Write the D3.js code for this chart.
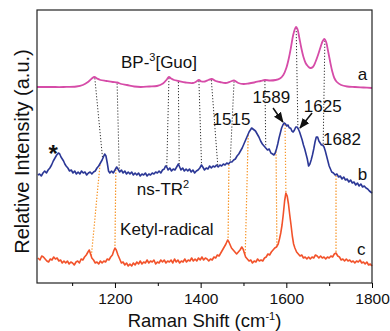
<!DOCTYPE html>
<html>
<head>
<meta charset="utf-8">
<script src="https://cdn.jsdelivr.net/npm/d3@7"></script>
<style>
  body { margin: 0; background: #fff; }
  svg { font-family: "Liberation Sans", Arial, sans-serif; }
</style>
</head>
<body>
<svg id="chart" width="390" height="331"></svg>
<script>
// Raman shift axis (cm-1)
var xDomain = [1018, 1800];
var majorTicks = [1200, 1400, 1600, 1800];
var minorTicks = [1100, 1300, 1500, 1700];

// a: BP-3[Guo] (offset intensity, a.u.)
var specA = [[1018,19.6],[1050,19.6],[1080,19.6],[1110,19.65],[1125,19.8],[1137,20.1],[1146,20.45],[1152,20.6],[1158,20.45],[1166,20.3],[1180,20.2],[1195,20.1],[1205,20.05],[1215,19.9],[1228,19.8],[1245,19.65],[1260,19.6],[1280,19.65],[1298,19.7],[1312,19.95],[1321,20.35],[1326,20.6],[1331,20.45],[1338,20.3],[1348,20.2],[1365,20.05],[1382,20.0],[1390,20.15],[1396,20.3],[1402,20.15],[1410,20.15],[1418,20.3],[1426,20.4],[1435,20.2],[1445,20.1],[1458,20.0],[1470,20.15],[1478,20.25],[1488,20.0],[1500,19.9],[1512,19.95],[1525,20.05],[1540,20.2],[1550,20.3],[1562,20.25],[1575,20.3],[1585,20.45],[1593,20.8],[1600,21.5],[1606,22.5],[1611,23.6],[1616,24.8],[1620,25.4],[1623,25.6],[1626,25.4],[1630,24.6],[1635,23.5],[1640,22.6],[1645,22.0],[1650,21.7],[1656,21.5],[1662,21.6],[1668,22.1],[1674,22.8],[1680,23.6],[1685,24.2],[1689,24.4],[1693,24.1],[1697,23.3],[1702,22.2],[1707,21.2],[1712,20.5],[1718,20.1],[1728,19.8],[1742,19.65],[1760,19.6],[1780,19.55],[1800,19.5]];

// b: ns-TR2
var specB = [[1020,10.8],[1024,10.9],[1028,10.7],[1032,11.0],[1036,11.2],[1040,11.0],[1044,11.3],[1048,11.5],[1052,11.8],[1056,12.2],[1060,12.5],[1064,12.8],[1068,13.0],[1071,12.9],[1074,12.6],[1077,12.4],[1080,12.2],[1083,11.9],[1086,11.7],[1090,11.5],[1094,11.2],[1098,11.3],[1102,11.0],[1106,11.2],[1110,10.9],[1114,11.1],[1118,10.9],[1122,11.2],[1126,11.0],[1130,11.1],[1134,10.8],[1138,11.0],[1142,11.1],[1146,10.9],[1150,11.1],[1154,11.2],[1158,11.5],[1162,11.7],[1166,12.0],[1170,12.3],[1173,12.6],[1176,12.9],[1179,12.7],[1182,12.0],[1185,11.2],[1188,11.0],[1192,11.2],[1196,11.0],[1200,11.3],[1204,11.6],[1207,11.4],[1211,11.1],[1215,11.3],[1219,11.0],[1223,11.2],[1227,10.9],[1231,11.1],[1235,10.9],[1239,11.1],[1243,10.8],[1247,11.0],[1251,10.8],[1255,11.0],[1259,10.7],[1263,10.9],[1267,10.8],[1271,11.0],[1275,10.7],[1279,10.9],[1283,10.8],[1287,11.0],[1291,10.9],[1295,11.1],[1299,11.0],[1303,11.2],[1307,11.0],[1311,11.3],[1315,11.4],[1318,11.7],[1321,11.6],[1324,11.3],[1328,11.5],[1332,11.2],[1336,11.4],[1340,11.3],[1344,11.6],[1348,11.9],[1351,11.6],[1354,11.3],[1358,11.5],[1362,11.2],[1366,11.4],[1370,11.2],[1374,11.4],[1378,11.1],[1382,11.3],[1386,11.0],[1390,11.2],[1394,11.3],[1398,11.5],[1402,11.8],[1405,11.6],[1409,11.3],[1413,11.5],[1417,11.4],[1421,11.7],[1425,11.5],[1429,11.7],[1433,11.6],[1437,11.8],[1441,11.6],[1445,11.8],[1449,11.7],[1453,11.9],[1457,11.8],[1461,12.0],[1465,11.9],[1469,12.1],[1473,12.1],[1477,12.3],[1481,12.4],[1485,12.7],[1489,12.9],[1493,13.2],[1497,13.5],[1501,13.9],[1505,14.3],[1509,14.7],[1513,15.1],[1516,15.3],[1519,15.5],[1522,15.4],[1525,15.3],[1528,15.2],[1532,14.9],[1536,14.6],[1540,14.2],[1544,13.9],[1548,13.7],[1552,13.5],[1556,13.3],[1560,13.4],[1564,13.0],[1568,12.9],[1571,12.8],[1574,13.0],[1577,13.4],[1580,13.9],[1583,14.5],[1586,15.0],[1589,15.5],[1592,15.8],[1595,16.0],[1598,15.9],[1601,15.7],[1604,15.8],[1607,15.5],[1610,15.5],[1613,15.2],[1616,15.1],[1619,15.3],[1622,15.6],[1625,15.6],[1628,15.4],[1631,15.1],[1634,14.7],[1637,14.3],[1640,13.8],[1643,13.4],[1646,12.9],[1649,12.4],[1652,11.7],[1655,11.9],[1658,12.3],[1661,12.8],[1664,13.4],[1667,14.1],[1670,14.6],[1673,14.6],[1676,14.2],[1679,14.0],[1682,13.8],[1685,13.8],[1688,13.6],[1691,13.2],[1694,12.7],[1697,12.2],[1700,11.7],[1703,11.4],[1706,11.1],[1710,11.0],[1714,10.8],[1718,10.9],[1722,10.6],[1726,10.7],[1730,10.4],[1734,10.6],[1738,10.3],[1742,10.4],[1746,10.1],[1750,10.3],[1754,10.0],[1758,10.1],[1762,9.8],[1766,10.0],[1770,9.7],[1774,9.9],[1778,9.6],[1782,9.7],[1786,9.5],[1790,9.4],[1794,9.2],[1797,9.1],[1800,9.0]];

// c: Ketyl-radical
var specC = [[1020,2.5],[1025,2.3],[1029,2.7],[1033,2.6],[1037,2.4],[1041,2.2],[1045,2.1],[1049,2.4],[1053,2.3],[1057,2.6],[1061,2.4],[1065,2.5],[1069,2.2],[1073,2.3],[1077,2.0],[1081,2.2],[1085,2.0],[1089,2.2],[1093,1.9],[1097,2.1],[1101,2.0],[1105,1.8],[1109,2.1],[1113,2.2],[1117,2.0],[1121,2.4],[1125,2.3],[1129,2.6],[1133,2.8],[1137,3.1],[1140,3.3],[1143,2.9],[1146,2.5],[1150,2.3],[1154,2.0],[1158,2.1],[1162,1.9],[1166,2.2],[1170,2.0],[1174,2.2],[1178,2.1],[1182,2.4],[1186,2.3],[1190,2.6],[1194,2.8],[1197,3.2],[1200,3.5],[1203,3.3],[1207,2.8],[1211,2.4],[1215,2.0],[1219,2.1],[1223,1.8],[1227,2.0],[1231,1.7],[1235,1.9],[1239,1.7],[1243,2.0],[1247,1.8],[1251,2.1],[1255,1.9],[1259,2.2],[1263,1.9],[1267,2.1],[1271,2.0],[1275,2.3],[1279,2.0],[1283,2.2],[1287,2.1],[1291,2.3],[1295,1.9],[1299,2.1],[1303,2.0],[1307,2.3],[1311,2.1],[1315,2.3],[1319,2.0],[1323,2.2],[1327,2.1],[1331,2.3],[1335,2.0],[1339,2.4],[1343,2.1],[1347,2.3],[1351,2.0],[1355,2.2],[1359,2.1],[1363,2.4],[1367,2.1],[1371,2.3],[1375,2.2],[1379,2.5],[1383,2.2],[1387,2.4],[1391,2.2],[1395,2.5],[1399,2.3],[1403,2.6],[1407,2.3],[1411,2.5],[1415,2.4],[1419,2.2],[1423,2.4],[1427,2.3],[1431,2.6],[1435,2.5],[1439,2.8],[1443,2.7],[1447,3.0],[1451,3.3],[1455,3.6],[1459,3.9],[1463,4.3],[1466,4.1],[1469,3.8],[1472,3.5],[1476,3.3],[1480,3.1],[1484,2.9],[1488,3.1],[1492,3.3],[1496,3.6],[1499,3.4],[1502,3.0],[1505,2.6],[1509,2.4],[1513,2.2],[1517,2.3],[1521,2.0],[1525,2.2],[1529,2.1],[1533,2.4],[1537,2.2],[1541,2.3],[1545,2.2],[1549,2.5],[1553,2.6],[1557,2.9],[1561,2.8],[1565,3.1],[1569,3.3],[1573,3.5],[1577,3.6],[1581,3.9],[1584,4.4],[1587,5.0],[1590,5.8],[1593,6.9],[1596,8.2],[1599,9.0],[1602,8.7],[1605,7.9],[1608,6.8],[1611,5.8],[1614,4.7],[1617,3.9],[1620,3.5],[1624,3.1],[1628,2.9],[1632,2.7],[1636,2.8],[1640,2.5],[1644,2.6],[1648,2.4],[1652,2.6],[1656,2.4],[1660,2.6],[1664,2.5],[1668,2.8],[1672,2.7],[1676,2.5],[1680,2.7],[1684,2.5],[1688,2.6],[1692,2.4],[1696,2.6],[1700,2.5],[1704,2.7],[1708,2.6],[1712,2.9],[1716,3.0],[1720,2.7],[1724,2.6],[1728,2.3],[1732,2.4],[1736,2.2],[1740,2.4],[1744,2.2],[1748,2.3],[1752,2.1],[1756,2.2],[1760,2.0],[1764,2.2],[1768,2.1],[1772,2.3],[1776,2.0],[1780,2.1],[1784,1.9],[1788,2.1],[1792,1.8],[1796,1.9],[1800,1.7]];

// band correlations [shift on upper trace, shift on lower trace]
var linksAB = [[1153,1171],[1205,1210],[1326,1321],[1348,1350],[1396,1402],[1425,1440],[1478,1469],[1550,1552],[1623,1627],[1690,1686]];
var linksBC = [[1165,1145],[1202,1200],[1466,1464],[1511,1504],[1576,1578],[1597,1599],[1716,1716]];

var peakLabels = ["1515", "1589", "1625", "1682"];

var svg = d3.select("#chart"),
    margin = {top: 10, right: 18, bottom: 48, left: 37},
    width = 390 - margin.left - margin.right,
    height = 331 - margin.top - margin.bottom;

var x = d3.scaleLinear().domain(xDomain).range([0, width]);
var y = d3.scaleLinear().domain([0, 27.3]).range([height, 0]);

var g = svg.append("g")
    .attr("transform", "translate(" + margin.left + "," + margin.top + ")");

var colA = "#d64ca8", colB = "#2b3796", colC = "#f2522a";

// value of a trace at a given shift
function valueAt(spec, wn) {
    var i = d3.bisector(function(d) { return d[0]; }).left(spec, wn);
    if (i <= 0) return spec[0][1];
    if (i >= spec.length) return spec[spec.length - 1][1];
    var p0 = spec[i - 1], p1 = spec[i];
    return p0[1] + (p1[1] - p0[1]) * (wn - p0[0]) / (p1[0] - p0[0]);
}

// dotted correlation lines
g.selectAll(".linkAB").data(linksAB).enter().append("line")
    .attr("x1", function(d) { return x(d[0]); })
    .attr("y1", function(d) { return y(valueAt(specA, d[0])) + 1; })
    .attr("x2", function(d) { return x(d[1]); })
    .attr("y2", function(d) { return y(valueAt(specB, d[1])) - 1; })
    .attr("stroke", "#333")
    .attr("stroke-width", 1)
    .attr("stroke-dasharray", "1.2,1.8");

g.selectAll(".linkBC").data(linksBC).enter().append("line")
    .attr("x1", function(d) { return x(d[0]); })
    .attr("y1", function(d) { return y(valueAt(specB, d[0])) + 1; })
    .attr("x2", function(d) { return x(d[1]); })
    .attr("y2", function(d) { return y(valueAt(specC, d[1])) - 1; })
    .attr("stroke", "#f7962a")
    .attr("stroke-width", 1.2)
    .attr("stroke-dasharray", "1.4,1.6");

var line = d3.line()
    .x(function(d) { return x(d[0]); })
    .y(function(d) { return y(d[1]); });

g.append("path").datum(specA)
    .attr("d", line.curve(d3.curveCatmullRom)(specA))
    .attr("fill", "none").attr("stroke", colA).attr("stroke-width", 1.8);

line.curve(d3.curveLinear);
g.append("path").datum(specB)
    .attr("d", line)
    .attr("fill", "none").attr("stroke", colB).attr("stroke-width", 1.6)
    .attr("stroke-linejoin", "round");

g.append("path").datum(specC)
    .attr("d", line)
    .attr("fill", "none").attr("stroke", colC).attr("stroke-width", 1.6)
    .attr("stroke-linejoin", "round");

// frame
g.append("rect")
    .attr("width", width).attr("height", height)
    .attr("fill", "none").attr("stroke", "#222").attr("stroke-width", 1.2);

var xAxis = g.append("g")
    .attr("transform", "translate(0," + height + ")")
    .call(d3.axisBottom(x).tickValues(majorTicks).tickSize(5).tickSizeOuter(0)
        .tickPadding(5).tickFormat(d3.format("d")));
xAxis.select(".domain").remove();
xAxis.selectAll("text").attr("font-size", 15.5).attr("fill", "#111")
    .style("font-family", "'Liberation Sans', Arial, sans-serif");

var xMinor = g.append("g")
    .attr("transform", "translate(0," + height + ")")
    .call(d3.axisBottom(x).tickValues(minorTicks).tickSize(3).tickFormat(""));
xMinor.select(".domain").remove();

// axis titles
var xt = g.append("text")
    .attr("x", width / 2).attr("y", height + 44)
    .attr("text-anchor", "middle").attr("font-size", 18.5).attr("fill", "#111");
xt.append("tspan").text("Raman Shift (cm");
xt.append("tspan").attr("font-size", 11).attr("dy", -7).text("-1");
xt.append("tspan").attr("dy", 7).text(")");

g.append("text")
    .attr("transform", "translate(-8," + (height / 2 + 5) + ") rotate(-90)")
    .attr("text-anchor", "middle").attr("font-size", 20).attr("fill", "#111")
    .text("Relative Intensity (a.u.)");

// trace labels
function label(wn, v, anchor) {
    return g.append("text")
        .attr("x", x(wn)).attr("y", y(v))
        .attr("text-anchor", anchor || "start")
        .attr("font-size", 17).attr("fill", "#111");
}

var la = label(1214, 21.5);
la.append("tspan").text("BP-");
la.append("tspan").attr("font-size", 11).attr("dy", -7).text("3");
la.append("tspan").attr("dy", 7).text("[Guo]");

var lb = label(1251, 8.8);
lb.append("tspan").text("ns-TR");
lb.append("tspan").attr("font-size", 11).attr("dy", -7).text("2");

label(1212, 4.8).text("Ketyl-radical");

label(1767, 20.3).text("a");
label(1767, 10.3).text("b");
label(1765, 2.8).text("c");

label(1056, 12.1, "middle").attr("font-size", 24).attr("font-weight", "bold").text("*");

var peakPos = [[1472, 15.8], [1565, 18.0], [1685, 17.1], [1730, 13.8]];
peakLabels.forEach(function(t, i) {
    label(peakPos[i][0], peakPos[i][1], "middle").text(t);
});

// arrows
svg.append("defs").append("marker")
    .attr("id", "ah").attr("viewBox", "0 0 10 10")
    .attr("refX", 9).attr("refY", 5)
    .attr("markerWidth", 7).attr("markerHeight", 7)
    .attr("orient", "auto")
    .append("path").attr("d", "M0,1L10,5L0,9Z").attr("fill", "#111");

var arrows = [[[1569, 17.5], [1592, 16.1]], [[1660, 17.0], [1632, 15.5]]];
g.selectAll(".arrow").data(arrows).enter().append("line")
    .attr("x1", function(d) { return x(d[0][0]); })
    .attr("y1", function(d) { return y(d[0][1]); })
    .attr("x2", function(d) { return x(d[1][0]); })
    .attr("y2", function(d) { return y(d[1][1]); })
    .attr("stroke", "#111").attr("stroke-width", 1.5)
    .attr("marker-end", "url(#ah)");
</script>
</body>
</html>
